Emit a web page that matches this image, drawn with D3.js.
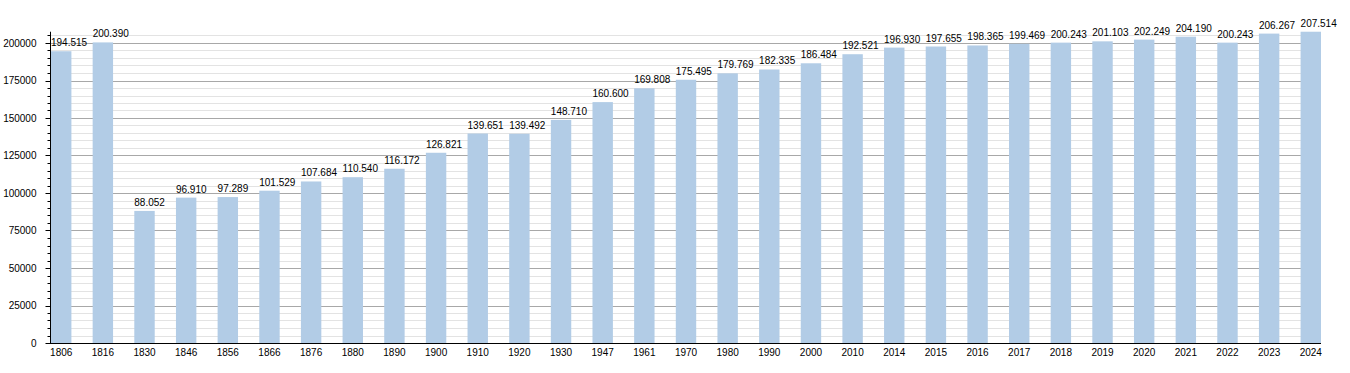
<!DOCTYPE html>
<html>
<head>
<meta charset="utf-8">
<script src="https://cdn.jsdelivr.net/npm/d3@7"></script>
<style>
  body { margin: 0; background: #fff; }
  svg text { font-family: "Liberation Sans", Arial, sans-serif; font-size: 10px; fill: #000; }
</style>
</head>
<body>
<svg id="chart" width="1350" height="373"></svg>
<script>
// population by census year
const years = ['1806', '1816', '1830', '1846', '1856', '1866', '1876', '1880', '1890', '1900',
  '1910', '1920', '1930', '1947', '1961', '1970', '1980', '1990', '2000', '2010',
  '2014', '2015', '2016', '2017', '2018', '2019', '2020', '2021', '2022', '2023', '2024'];
const population = [194515, 200390, 88052, 96910, 97289, 101529, 107684, 110540, 116172, 126821,
  139651, 139492, 148710, 160600, 169808, 175495, 179769, 182335, 186484, 192521,
  196930, 197655, 198365, 199469, 200243, 201103, 202249, 204190, 200243, 206267, 207514];
const yTicks = [0, 25000, 50000, 75000, 100000, 125000, 150000, 175000, 200000];

const data = years.map((y, i) => ({ year: y, value: population[i] }));

const svg = d3.select('#chart');
const left = 50, right = 1321, bottom = 343;

const x = d3.scaleBand()
  .domain(years)
  .range([left + 1, right])
  .paddingInner(0.51)
  .paddingOuter(0);

const yMax = d3.max(population);
const y = d3.scaleLinear()
  .domain([0, yMax])
  .range([bottom, bottom - yMax * 0.0015]);

const minor = d3.range(0, yMax, 5000);

// grid lines
svg.append('g')
  .selectAll('line')
  .data(minor.filter(d => d % 25000 !== 0))
  .enter()
  .append('line')
  .attr('x1', left).attr('x2', right)
  .attr('y1', d => Math.round(y(d)) + 0.5).attr('y2', d => Math.round(y(d)) + 0.5)
  .attr('stroke', '#e3e3e3');

svg.append('g')
  .selectAll('line')
  .data(yTicks.filter(d => d > 0))
  .enter()
  .append('line')
  .attr('x1', left).attr('x2', right)
  .attr('y1', d => Math.round(y(d)) + 0.5).attr('y2', d => Math.round(y(d)) + 0.5)
  .attr('stroke', '#a8a8a8');

// bars
svg.append('g')
  .selectAll('rect')
  .data(data)
  .enter()
  .append('rect')
  .attr('x', d => x(d.year))
  .attr('y', d => y(d.value))
  .attr('width', x.bandwidth())
  .attr('height', d => bottom - y(d.value))
  .attr('fill', '#b2cce6');

// value labels, left aligned on the bar
const fmt = v => d3.format(',')(v).replace(/,/g, '.');
svg.append('g')
  .selectAll('text')
  .data(data)
  .enter()
  .append('text')
  .attr('x', d => x(d.year))
  .attr('y', d => y(d.value) - 5)
  .text(d => fmt(d.value));

// y axis
const yAxis = svg.append('g').attr('transform', `translate(${left + 0.5},0)`);
yAxis.append('line')
  .attr('y1', y(yMax)).attr('y2', bottom)
  .attr('stroke', '#000');
yAxis.selectAll('.minor')
  .data(minor)
  .enter()
  .append('line')
  .attr('x1', -3).attr('x2', 0)
  .attr('y1', d => Math.round(y(d)) + 0.5).attr('y2', d => Math.round(y(d)) + 0.5)
  .attr('stroke', '#000');
yAxis.selectAll('.major')
  .data(yTicks)
  .enter()
  .append('line')
  .attr('x1', -5).attr('x2', 0)
  .attr('y1', d => Math.round(y(d)) + 0.5).attr('y2', d => Math.round(y(d)) + 0.5)
  .attr('stroke', '#000');
yAxis.selectAll('text')
  .data(yTicks)
  .enter()
  .append('text')
  .attr('x', -14)
  .attr('y', d => y(d) + 3.5)
  .attr('text-anchor', 'end')
  .text(d => d);

// x axis
const xAxis = svg.append('g').attr('transform', `translate(0,${bottom + 0.5})`);
xAxis.append('line')
  .attr('x1', left).attr('x2', right)
  .attr('stroke', '#000');
xAxis.selectAll('text')
  .data(years)
  .enter()
  .append('text')
  .attr('x', d => x(d) + x.bandwidth() / 2)
  .attr('y', 12)
  .attr('text-anchor', 'middle')
  .text(d => d);
</script>
</body>
</html>
